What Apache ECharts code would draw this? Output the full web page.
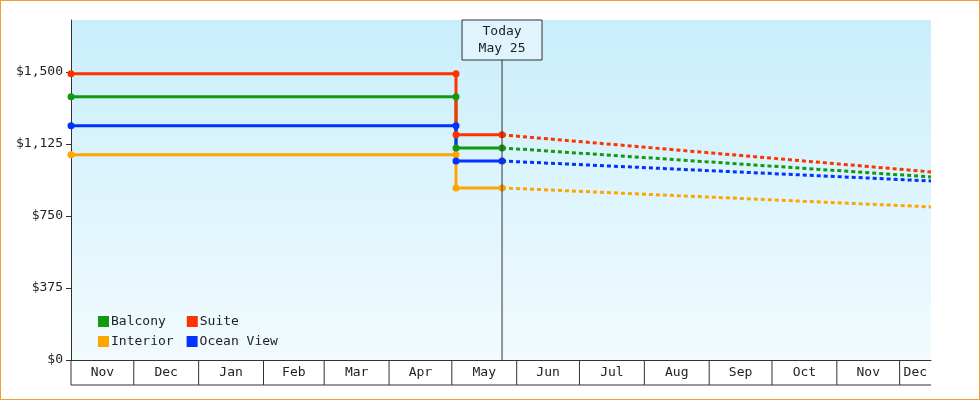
<!DOCTYPE html>
<html>
<head>
<meta charset="utf-8">
<script src="https://cdn.jsdelivr.net/npm/echarts@6/dist/echarts.min.js"></script>
<style>
  html, body { margin: 0; padding: 0; background: #fff; }
  #chart { width: 978px; height: 398px; border: 1px solid #f0a030; }
</style>
</head>
<body>
<div id="chart"></div>
<script>
// cabin classes and their prices
const cabins = ['Balcony', 'Suite', 'Interior', 'Ocean View'];
const colors = ['#119911', '#ff3300', '#ffa500', '#0033ff'];
const startPrice = [1370, 1490, 1068, 1219];
const dropPrice = [1104, 1172, 896, 1036];
const endPrice = [953, 979, 797, 932];

const startDate = '2023-11-01';
const dropDate = '2024-05-03';
const todayDate = '2024-05-25';
const endDate = '2024-12-16';
const todayLabel = 'Today\nMay 25';

// month boxes on the bottom axis
const monthNames = ['Nov', 'Dec', 'Jan', 'Feb', 'Mar', 'Apr', 'May', 'Jun', 'Jul', 'Aug', 'Sep', 'Oct', 'Nov', 'Dec'];
const monthStarts = ['2023-11-01', '2023-12-01', '2024-01-01', '2024-02-01', '2024-03-01', '2024-04-01', '2024-05-01',
  '2024-06-01', '2024-07-01', '2024-08-01', '2024-09-01', '2024-10-01', '2024-11-01', '2024-12-01'];

const yTicks = [0, 375, 750, 1125, 1500];

const font = '"DejaVu Sans Mono", monospace';
const chart = echarts.init(document.getElementById('chart'));

const series = [];
cabins.forEach((name, i) => {
  series.push({
    name: name, type: 'line', color: colors[i],
    data: [[startDate, startPrice[i]], [dropDate, startPrice[i]], [dropDate, dropPrice[i]], [todayDate, dropPrice[i]]],
    symbol: 'circle', symbolSize: 7, lineStyle: { width: 3 }, z: 5
  });
  series.push({
    name: name, type: 'line', color: colors[i],
    data: [[todayDate, dropPrice[i]], [endDate, endPrice[i]]],
    symbol: 'none', lineStyle: { width: 3, type: [4, 3] }, z: 4
  });
});

// month boxes
const ts = d => new Date(d + 'T00:00:00').getTime();
series.push({
  type: 'custom', clip: false, silent: true, data: monthStarts.map(d => [d, 0]),
  renderItem: (params, api) => {
    const i = params.dataIndex;
    const end = i + 1 < monthStarts.length ? monthStarts[i + 1] : endDate;
    const x0 = api.coord([ts(monthStarts[i]), 0])[0];
    const x1 = Math.min(api.coord([ts(end), 0])[0], params.coordSys.x + params.coordSys.width);
    const y = params.coordSys.y + params.coordSys.height;
    return {
      type: 'group',
      children: [
        { type: 'line', shape: { x1: x0, y1: y, x2: x0, y2: y + 25 }, style: { stroke: '#333', lineWidth: 1 } },
        { type: 'line', shape: { x1: x0, y1: y + 25, x2: x1, y2: y + 25 }, style: { stroke: '#333', lineWidth: 1 } },
        { type: 'text', x: (x0 + x1) / 2, y: y + 13, style: { text: monthNames[i], align: 'center',
          verticalAlign: 'middle', font: '13px ' + font, fill: '#222' } }
      ]
    };
  }
});

// today marker
series.push({
  type: 'custom', clip: false, silent: true, data: [[todayDate, 0]], z: 10,
  renderItem: (params, api) => {
    const x = api.coord([ts(todayDate), 0])[0];
    const top = params.coordSys.y;
    const bottom = top + params.coordSys.height;
    return {
      type: 'group',
      children: [
        { type: 'line', shape: { x1: x, y1: top, x2: x, y2: bottom }, style: { stroke: '#333', lineWidth: 1 } },
        { type: 'rect', shape: { x: x - 40, y: top, width: 80, height: 40 }, style: { fill: '#dff4fc', stroke: '#333', lineWidth: 1 } },
        { type: 'text', x: x, y: top + 20, style: { text: todayLabel, align: 'center', verticalAlign: 'middle',
          font: '13px ' + font, fill: '#222', lineHeight: 17 } }
      ]
    };
  }
});

const legendBase = {
  left: 92, orient: 'horizontal', itemWidth: 11, itemHeight: 11, icon: 'rect',
  textStyle: { fontFamily: font, fontSize: 13, color: '#222', padding: [0, 0, 0, -3] }
};

chart.setOption({
  animation: false,
  textStyle: { fontFamily: font },
  grid: {
    left: 70, right: 48, top: 19, bottom: 39, show: true, borderWidth: 0,
    backgroundColor: new echarts.graphic.LinearGradient(0, 0, 0, 1, [
      { offset: 0, color: '#c9eefb' }, { offset: 1, color: '#f2fbfe' }
    ])
  },
  legend: [
    Object.assign({}, legendBase, { data: cabins.slice(0, 2), top: 309, itemGap: 21 }),
    Object.assign({}, legendBase, { data: cabins.slice(2), top: 329, itemGap: 13 })
  ],
  xAxis: {
    type: 'time', min: startDate, max: endDate,
    axisLine: { lineStyle: { color: '#333' } }, axisTick: { show: false },
    axisLabel: { show: false }, splitLine: { show: false }
  },
  yAxis: {
    type: 'value', min: 0, max: 1770, interval: 375,
    axisLine: { show: true, lineStyle: { color: '#333' } },
    axisTick: { show: true, length: 5, lineStyle: { color: '#333' }, customValues: yTicks },
    splitLine: { show: false },
    axisLabel: {
      color: '#222', fontSize: 13, fontFamily: font,
      customValues: yTicks,
      formatter: v => '$' + v.toLocaleString('en-US')
    }
  },
  series: series
});
</script>
</body>
</html>
